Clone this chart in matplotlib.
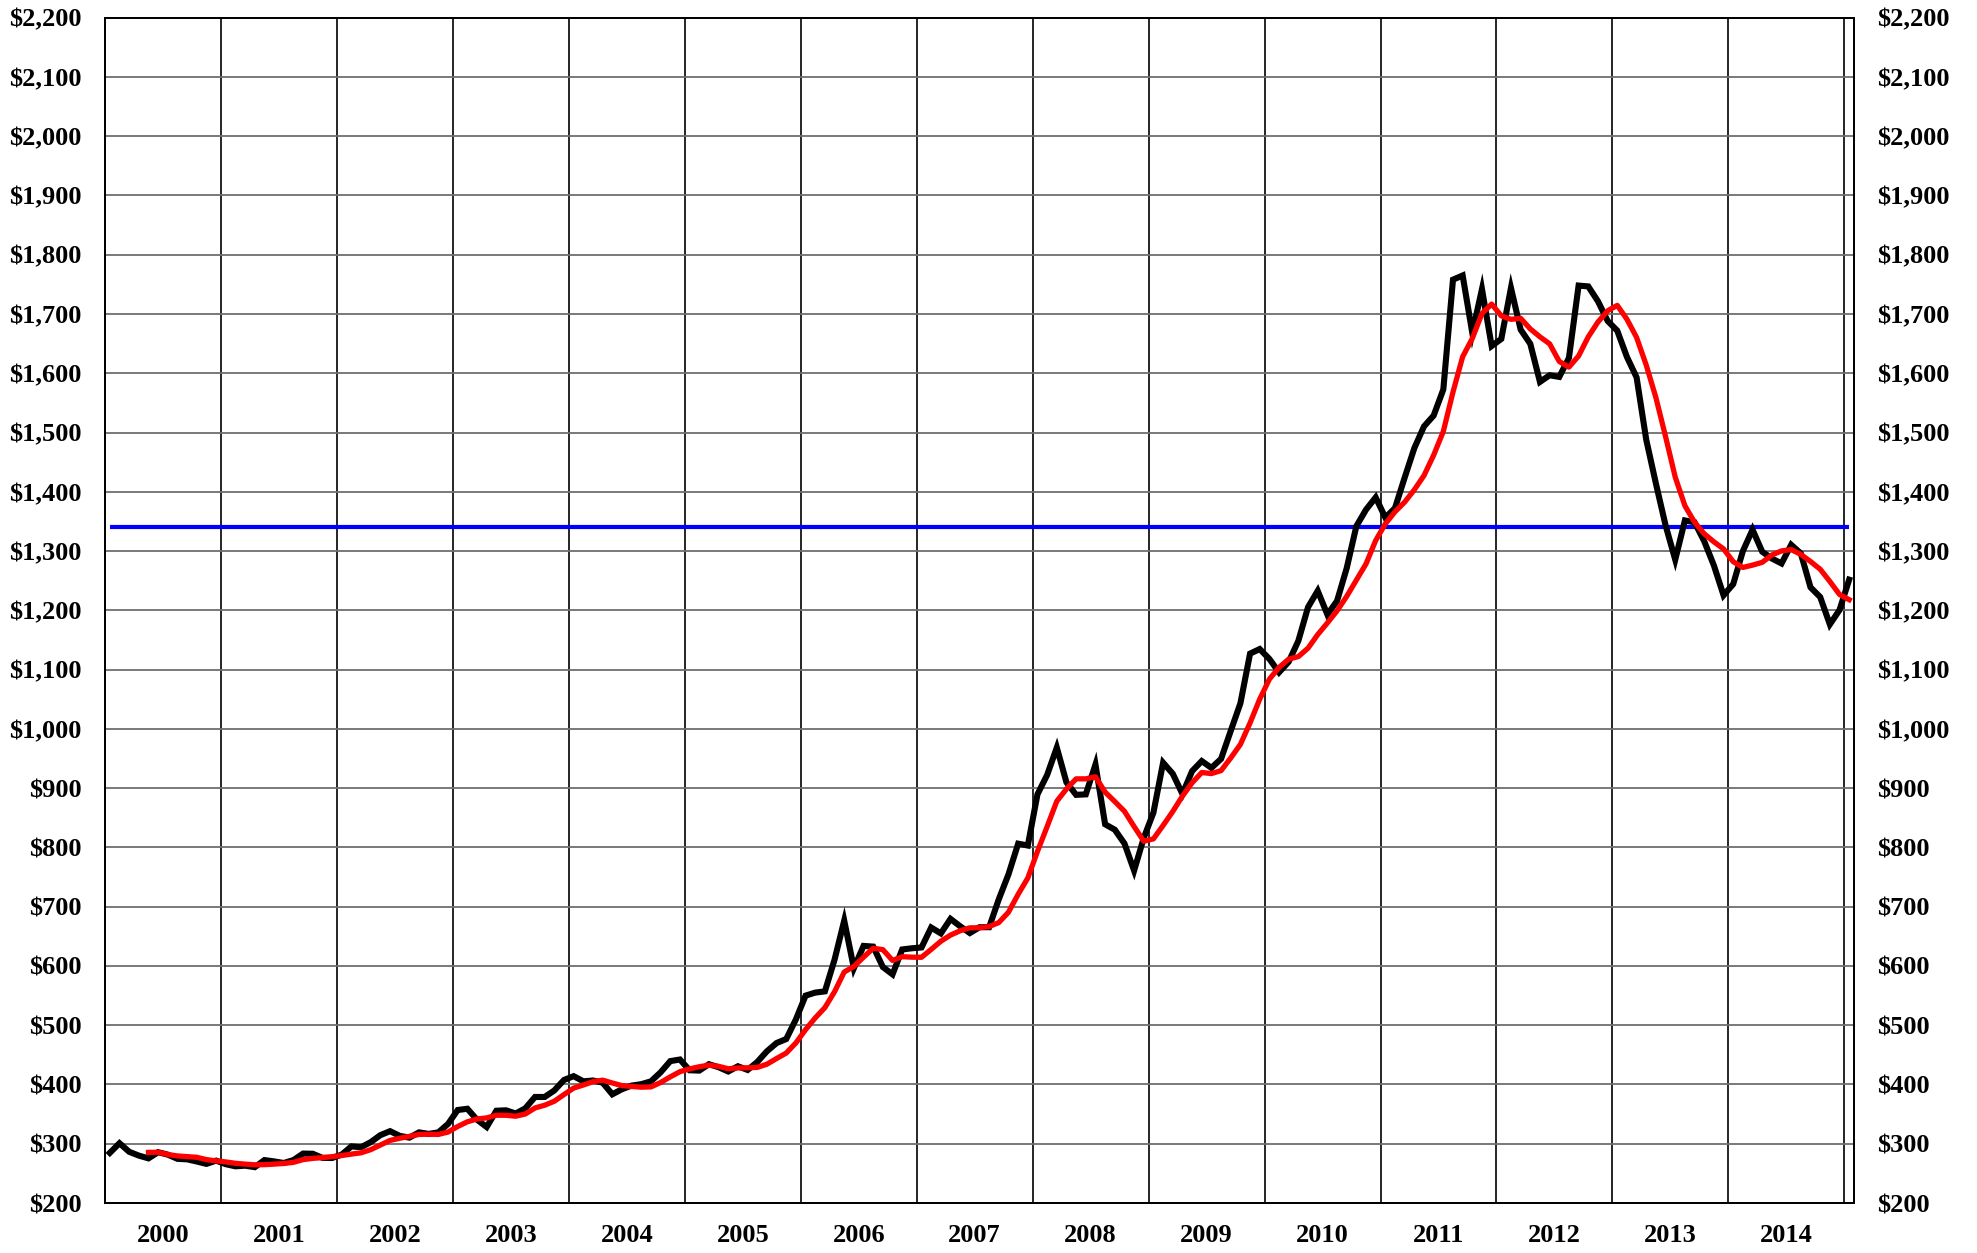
import matplotlib
matplotlib.use("Agg")
import matplotlib.pyplot as plt
import numpy as np

# Monthly average gold price (USD/oz), Jan 2000 .. Jan 2015
gold_price = [
    284.6, 300.9, 286.4, 280.0, 275.3, 285.7, 281.6, 274.5, 273.7, 270.0, 266.0, 271.5,  # 2000
    265.5, 261.9, 263.0, 260.5, 272.4, 270.2, 267.5, 272.4, 283.4, 283.1, 276.2, 275.9,  # 2001
    281.7, 295.5, 294.1, 302.7, 314.5, 321.2, 313.3, 310.3, 319.2, 316.6, 319.2, 333.4,  # 2002
    356.9, 359.0, 340.6, 328.2, 355.7, 356.4, 351.0, 359.8, 378.9, 378.9, 389.9, 407.6,  # 2003
    414.0, 405.3, 406.7, 403.0, 383.4, 392.0, 398.1, 400.5, 405.3, 420.5, 439.4, 442.1,  # 2004
    424.0, 423.4, 434.2, 429.1, 421.9, 430.7, 424.5, 437.9, 456.0, 469.9, 476.7, 509.8,  # 2005
    549.9, 555.0, 557.1, 610.6, 676.5, 596.2, 633.8, 632.6, 598.2, 585.8, 627.8, 629.8,  # 2006
    631.2, 664.8, 654.9, 679.4, 666.9, 655.5, 665.3, 665.4, 712.7, 754.6, 806.3, 803.2,  # 2007
    889.6, 922.3, 968.4, 909.7, 888.7, 889.5, 939.8, 839.0, 829.9, 806.6, 760.9, 816.1,  # 2008
    858.7, 943.0, 924.3, 890.2, 928.7, 945.7, 934.2, 949.4, 996.6, 1043.2, 1127.0, 1134.7,  # 2009
    1118.0, 1095.4, 1113.3, 1148.7, 1205.4, 1232.9, 1193.0, 1215.8, 1271.1, 1342.0, 1369.9, 1390.6,  # 2010
    1356.4, 1372.7, 1424.0, 1473.8, 1510.4, 1528.7, 1572.8, 1758.0, 1765.0, 1668.0, 1742.0, 1646.0,  # 2011
    1658.0, 1744.0, 1673.8, 1649.7, 1585.5, 1596.7, 1593.9, 1626.0, 1748.0, 1746.6, 1721.6, 1688.5,  # 2012
    1671.9, 1627.6, 1593.1, 1487.9, 1414.0, 1343.4, 1285.5, 1351.7, 1348.6, 1316.6, 1275.8, 1225.4,  # 2013
    1244.3, 1300.0, 1336.1, 1299.0, 1287.5, 1279.1, 1310.6, 1296.0, 1238.8, 1222.5, 1176.3, 1200.6,  # 2014
    1251.8,  # 2015
]

# 5-month moving average as drawn (starts May 2000)
avg_price = [
    285.4, 285.7, 281.8, 279.4, 278.2, 277.1, 273.2, 271.1,  # 2000
    269.3, 267.0, 265.6, 264.5, 264.7, 265.6, 266.7, 268.6, 273.2, 275.3, 276.5, 278.2,  # 2001
    280.1, 282.5, 284.7, 290.0, 297.7, 305.6, 309.2, 312.4, 315.7, 316.1, 315.7, 319.7,  # 2002
    329.1, 337.0, 341.8, 343.6, 348.1, 348.0, 346.4, 350.2, 360.4, 365.0, 371.7, 383.0,  # 2003
    393.9, 399.1, 404.7, 407.3, 402.5, 398.1, 396.6, 395.4, 395.9, 403.3, 412.8, 421.6,  # 2004
    426.3, 429.9, 432.6, 430.6, 426.5, 427.9, 428.1, 428.8, 434.2, 443.8, 453.0, 470.1,  # 2005
    492.5, 512.3, 529.7, 556.5, 589.8, 599.1, 614.8, 629.9, 627.5, 609.3, 615.6, 614.8,  # 2006
    614.6, 627.9, 641.7, 652.0, 659.4, 664.3, 664.4, 666.5, 673.2, 690.7, 720.9, 748.4,  # 2007
    793.3, 835.2, 878.0, 898.6, 915.7, 915.7, 919.2, 893.3, 877.4, 861.0, 835.2, 810.5,  # 2008
    814.4, 837.1, 860.6, 886.5, 909.0, 926.4, 924.6, 929.6, 950.9, 973.8, 1010.1, 1050.2,  # 2009
    1083.9, 1103.7, 1117.7, 1122.0, 1136.2, 1159.1, 1178.7, 1199.2, 1223.6, 1251.0, 1278.4, 1317.9,  # 2010
    1346.0, 1366.3, 1382.7, 1403.5, 1427.5, 1461.9, 1501.9, 1568.3, 1627.9, 1658.9, 1700.9, 1716.8,  # 2011
    1696.9, 1691.0, 1692.8, 1674.9, 1661.5, 1649.7, 1619.9, 1610.4, 1629.3, 1661.5, 1686.5, 1705.4,  # 2012
    1714.6, 1691.2, 1660.5, 1613.8, 1558.9, 1493.2, 1424.8, 1376.5, 1348.6, 1329.2, 1315.6, 1303.6,  # 2013
    1282.1, 1272.4, 1276.3, 1281.0, 1293.4, 1300.3, 1302.5, 1294.4, 1282.4, 1269.4, 1248.8, 1226.8,  # 2014
    1218.0,  # 2015
]

reference_level = 1340
years = list(range(2000, 2015))
ma_window = 5

plt.rcParams["font.family"] = ["Liberation Serif", "DejaVu Serif"]
plt.rcParams["font.weight"] = "bold"
FS = 19

fig = plt.figure(figsize=(19.77, 12.53), dpi=100)
ax = fig.add_axes([105 / 1977, 50 / 1253, (1854 - 105) / 1977, (1203 - 17.7) / 1253])

n = len(gold_price)
x_all = np.arange(n) + 0.5
x_avg = np.arange(ma_window - 1, n) + 0.5

ax.hlines(reference_level, x_all[0], x_all[-1], color="#0000ff", linewidth=3.0, zorder=3)
ax.plot(x_all, gold_price, color="black", linewidth=4.4, solid_joinstyle="miter", zorder=4)
ax.plot(x_avg, avg_price, color="#ff0000", linewidth=3.8, solid_joinstyle="round", zorder=5)

ax.set_xlim(0, n)
ax.set_ylim(200, 2200)

# year boundaries as grid lines, year names centred in each block
ax.set_xticks(np.arange(0, n, 12))
ax.set_xticklabels([])
ax.set_xticks(np.arange(6, 12 * len(years), 12), minor=True)
ax.set_xticklabels([str(y) for y in years], minor=True)
ax.tick_params(axis="x", which="both", length=0)
ax.tick_params(axis="x", which="minor", labelsize=FS, pad=15)
ax.grid(axis="x", which="major", color="black", linewidth=1.2)

yt = np.arange(200, 2201, 100)
ylabels = ["${:,}".format(v) for v in yt]
ax.set_yticks(yt)
ax.set_yticklabels(ylabels)
ax.tick_params(axis="y", length=0, labelsize=FS, pad=17)
ax.grid(axis="y", color="#6e6e6e", linewidth=1.3)
ax.set_axisbelow(True)

ax2 = ax.twinx()
ax2.set_ylim(200, 2200)
ax2.set_yticks(yt)
ax2.set_yticklabels(ylabels)
ax2.tick_params(axis="y", length=0, labelsize=FS, pad=16.5)

for a in (ax, ax2):
    for s in a.spines.values():
        s.set_color("black")
        s.set_linewidth(1.3)

fig.savefig("out.png", dpi=100)
